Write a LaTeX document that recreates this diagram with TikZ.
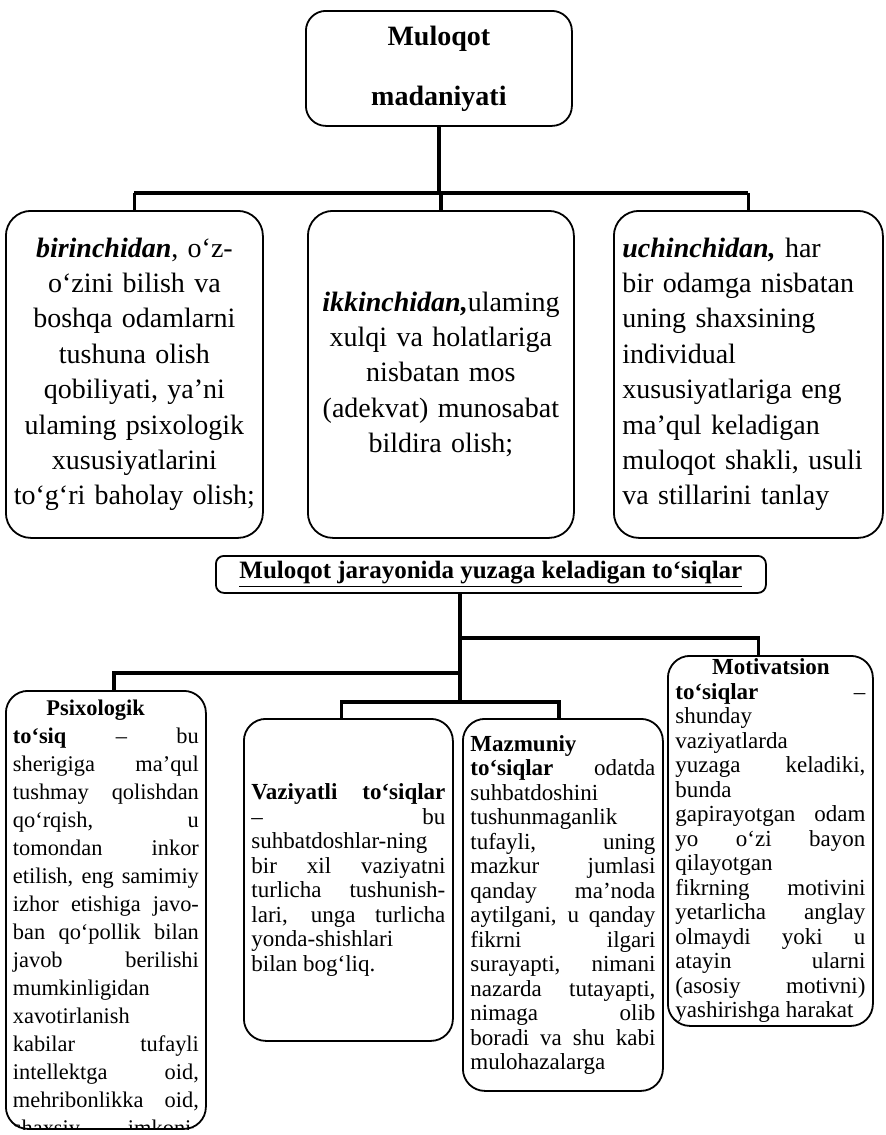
\documentclass[tikz,border=0pt]{standalone}
\usepackage{fontspec}
\setmainfont{Liberation Serif}
\usepackage{tikz}

\newcommand\toprowfont{\fontsize{14}{17.7}\selectfont}
\newcommand\lowrowfont{\fontsize{11.5}{12.25}\selectfont\tolerance=10000 \hyphenpenalty=10000 }

\begin{document}
\begin{tikzpicture}[x=0.5pt, y=-0.5pt,
    card/.style={draw=black, line width=0.9pt, rounded corners=11pt, inner sep=0pt},
    wire/.style={draw=black, line width=1.8pt}]
    \useasboundingbox (0,0) rectangle (885,1135);

    \node(madaniyat)[
        card, rounded corners=10pt,
        anchor=north west,
        minimum width=266*0.5pt,
        minimum height=115*0.5pt,
        align=center,
        font=\bfseries\fontsize{14}{30}\selectfont
    ] at (305,10) {Muloqot\\madaniyati};

    \node(birinchi)[card, rounded corners=12.5pt, anchor=north west,
        minimum width=257*0.5pt, minimum height=327*0.5pt,
        text width=250*0.5pt, align=center, font=\toprowfont]
    at (5,210) {\textbf{\textit{birinchidan}}, o‘z-\\o‘zini bilish va\\boshqa odamlarni\\tushuna olish\\qobiliyati, ya’ni\\ulaming psixologik\\xususiyatlarini\\to‘g‘ri baholay olish;};

    \node(ikkinchi)[card, rounded corners=12.5pt, anchor=north west,
        minimum width=266*0.5pt, minimum height=327*0.5pt,
        text width=258*0.5pt, align=center, font=\toprowfont]
    at (307,210) {\textbf{\textit{ikkinchidan,}}ulaming\\xulqi va holatlariga\\nisbatan mos\\(adekvat) munosabat\\bildira olish;};

    \node(uchinchi)[card, rounded corners=12.5pt, anchor=north west,
        minimum width=269*0.5pt, minimum height=327*0.5pt,
        text width=252*0.5pt, align=left, font=\toprowfont]
    at (613,210) {\textbf{\textit{uchinchidan,}} har\\bir odamga nisbatan\\uning shaxsining\\individual\\xususiyatlariga eng\\ma’qul keladigan\\muloqot shakli, usuli\\va stillarini tanlay};

    \coordinate(bus1) at (0,193);
    \draw[wire] (madaniyat.south) -- (madaniyat.south |- bus1);
    \draw[wire] (birinchi.north |- bus1) -- (uchinchi.north |- bus1);
    \foreach \b in {birinchi, ikkinchi, uchinchi} {
        \draw[wire] (\b.north) -- (\b.north |- bus1);
    }

    \node(tosiqlar)[card, rounded corners=4pt, anchor=north west,
        minimum width=550*0.5pt, minimum height=37*0.5pt,
        font=\bfseries\fontsize{12.5}{15}\selectfont]
    at (215,555) {\underline{Muloqot jarayonida yuzaga keladigan to‘siqlar}};

    \node(psix)[card, anchor=north west,
        minimum width=200*0.5pt, minimum height=438*0.5pt]
    at (5,690) {};
    \begin{scope}
        \clip[rounded corners=11pt] (psix.south west) rectangle (psix.north east);
        \node(psixtext)[anchor=north, inner sep=0pt, text width=93pt, align=justify,
            font=\lowrowfont\fontsize{11.2}{14}\selectfont]
        at ([yshift=-5pt]psix.north) {\hspace*{1.5em}\textbf{Psixologik}\linebreak \textbf{to‘siq} – bu\linebreak sherigiga ma’qul\linebreak tushmay qolishdan\linebreak qo‘rqish, u\linebreak tomondan inkor\linebreak etilish, eng samimiy\linebreak izhor etishiga javo-\linebreak ban qo‘pollik bilan\linebreak javob berilishi\linebreak mumkinligidan\linebreak xavotirlanish\linebreak kabilar tufayli\linebreak intellektga oid,\linebreak mehribonlikka oid,\linebreak shaxsiy\hfill imkoni-};
    \end{scope}

    \node(vaziyat)[card, anchor=north west,
        minimum width=209*0.5pt, minimum height=322*0.5pt,
        text width=97pt, align=justify, font=\lowrowfont]
    at (243,718) {\textbf{Vaziyatli to‘siqlar}\linebreak – bu\linebreak suhbatdoshlar-ning\linebreak bir xil vaziyatni\linebreak turlicha tushunish-\linebreak lari, unga turlicha\linebreak yonda-shishlari\linebreak bilan bog‘liq.};

    \node(mazmun)[card, anchor=north west,
        minimum width=200*0.5pt, minimum height=372*0.5pt,
        text width=92.5pt, align=justify, font=\lowrowfont]
    at (462,718) {\textbf{Mazmuniy}\linebreak \textbf{to‘siqlar} odatda\linebreak suhbatdoshini\linebreak tushunmaganlik\linebreak tufayli, uning\linebreak mazkur jumlasi\linebreak qanday ma’noda\linebreak aytilgani, u qanday\linebreak fikrni ilgari\linebreak surayapti, nimani\linebreak nazarda tutayapti,\linebreak nimaga olib\linebreak boradi va shu kabi\linebreak mulohazalarga};

    \node(motiv)[card, anchor=north west,
        minimum width=205*0.5pt, minimum height=370*0.5pt,
        text width=95pt, align=justify, font=\lowrowfont]
    at (667,655) {\hspace*{1.6em}\textbf{Motivatsion}\linebreak \textbf{to‘siqlar} –\linebreak shunday\linebreak vaziyatlarda\linebreak yuzaga keladiki,\linebreak bunda\linebreak gapirayotgan odam\linebreak yo o‘zi bayon\linebreak qilayotgan\linebreak fikrning motivini\linebreak yetarlicha anglay\linebreak olmaydi yoki u\linebreak atayin ularni\linebreak (asosiy motivni)\linebreak yashirishga harakat};

    \coordinate(trunk) at (460,702);
    \coordinate(bus2) at (0,638);
    \coordinate(bus3) at (0,673);
    %\draw[wire] (tosiqlar.south) -- (trunk);
    \draw[wire] (tosiqlar.south -| trunk) -- (trunk);
    \draw[wire] (trunk |- bus2) -| ([xshift=-6pt]motiv.north);
    \draw[wire] (trunk |- bus3) -| ([xshift=4pt]psix.north);
    \draw[wire] ([xshift=-3.5pt]vaziyat.north) |- (trunk) -| ([xshift=-2pt]mazmun.north);

\end{tikzpicture}
\end{document}
